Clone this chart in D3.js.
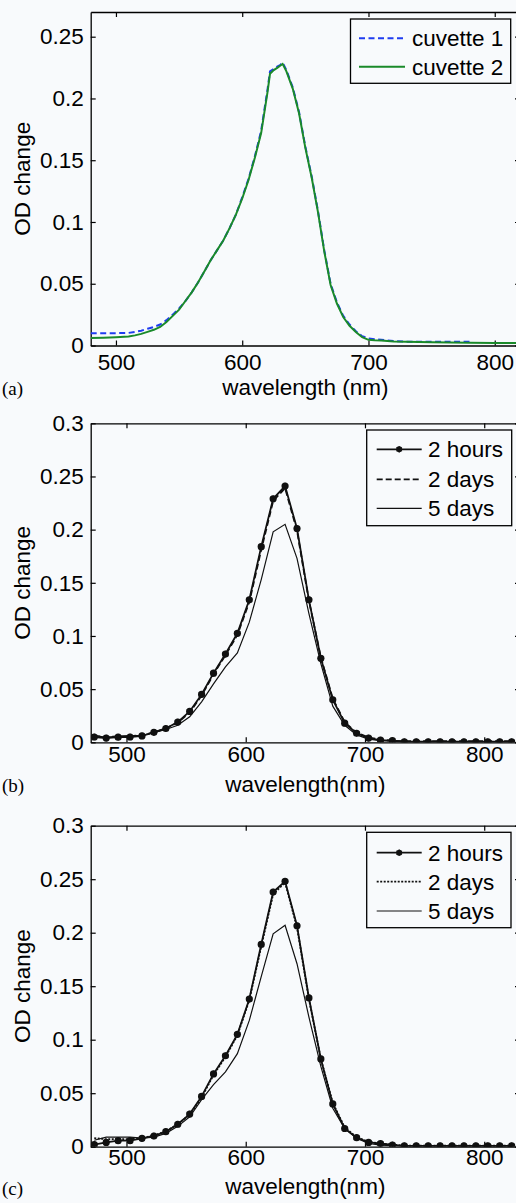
<html>
<head>
  <script src="https://d3js.org/d3.v7.min.js"></script>
  <style>
    body { margin: 0; background: #f8fafc; }
    text { font-family: "Liberation Sans", Arial, sans-serif; fill: #000; }
    .domain { stroke: #000; stroke-width: 1.3px; }
    .tick line { stroke: #000; stroke-width: 1.2px; }
  </style>
</head>
<body>
<svg id="fig" width="516" height="1203"></svg>
<script>
  // ---- data ----
  // panel (a)
  const wlA = [480, 490, 500, 510, 515, 520, 525, 530, 535, 540, 545, 550, 555, 560, 565, 570, 575, 580, 585, 590,
    595, 600, 605, 610, 615, 620, 622, 625, 628, 630, 632, 635, 640, 645, 650, 655, 660, 665, 670, 675,
    680, 685, 690, 695, 700, 705, 710, 720, 730, 750, 780, 800, 820];
  const cuvette1 = [0.010, 0.010, 0.010, 0.0102, 0.011, 0.012, 0.0135, 0.015, 0.017, 0.0205, 0.025, 0.030, 0.036, 0.043, 0.051, 0.060, 0.069, 0.077, 0.085, 0.095,
    0.106, 0.120, 0.135, 0.153, 0.174, 0.207, 0.222, 0.224, 0.226, 0.227, 0.229, 0.223, 0.209, 0.189, 0.161, 0.137, 0.109, 0.077, 0.050, 0.035,
    0.024, 0.017, 0.0115, 0.0075, 0.0058, 0.005, 0.0047, 0.0036, 0.003, 0.003, 0.003, null, null];
  const cuvette2 = [0.006, 0.0063, 0.0067, 0.0073, 0.0082, 0.0094, 0.011, 0.0127, 0.015, 0.019, 0.024, 0.029, 0.036, 0.043, 0.051, 0.060, 0.069, 0.077, 0.085, 0.095,
    0.106, 0.119, 0.134, 0.152, 0.172, 0.205, 0.220, 0.223, 0.225, 0.2265, 0.228, 0.222, 0.208, 0.188, 0.160, 0.136, 0.108, 0.076, 0.049, 0.034,
    0.023, 0.016, 0.011, 0.0067, 0.0046, 0.0042, 0.004, 0.0033, 0.003, 0.0027, 0.0022, 0.002, 0.002];

  // panels (b) and (c) share the wavelength grid
  const wlBC = [473, 483, 493, 503, 513, 523, 533, 543, 553, 563, 573, 583, 593, 603, 613, 623, 633, 643, 653, 663,
    673, 683, 693, 703, 713, 723, 733, 743, 753, 763, 773, 783, 793, 803, 813, 823];

  const hours2B = [0.005, 0.004, 0.0048, 0.005, 0.006, 0.0094, 0.013, 0.019, 0.029, 0.045, 0.065, 0.083, 0.1025, 0.134, 0.184, 0.229, 0.241, 0.201, 0.134, 0.079,
    0.040, 0.018, 0.0085, 0.004, 0.002, 0.0015, 0.0005, 0.0005, 0.0005, 0.0005, 0.0005, 0.0005, 0.0005, 0.0005, 0.0005, 0.0005];
  const days2B = [0.006, 0.005, 0.0055, 0.0058, 0.0065, 0.0095, 0.013, 0.0185, 0.028, 0.044, 0.064, 0.082, 0.101, 0.132, 0.181, 0.227, 0.239, 0.199, 0.133, 0.080,
    0.041, 0.019, 0.009, 0.0045, 0.0025, 0.0015, 0.001, 0.001, 0.001, 0.001, 0.001, 0.001, 0.001, 0.001, 0.001, 0.001];
  const days5B = [0.006, 0.005, 0.0055, 0.006, 0.0065, 0.009, 0.012, 0.016, 0.024, 0.038, 0.055, 0.071, 0.084, 0.113, 0.153, 0.198, 0.205, 0.173, 0.121, 0.074,
    0.034, 0.016, 0.007, 0.003, 0.0015, 0.001, 0.0005, 0.0005, 0.0005, 0.0005, 0.0005, 0.0005, 0.0005, 0.0005, 0.0005, 0.0005];

  const hours2C = [0.002, 0.004, 0.0056, 0.0056, 0.0078, 0.010, 0.014, 0.021, 0.0305, 0.047, 0.068, 0.085, 0.105, 0.138, 0.189, 0.238, 0.248, 0.2065, 0.139, 0.082,
    0.040, 0.017, 0.0084, 0.004, 0.003, 0.0016, 0.0008, 0.0008, 0.0008, 0.0008, 0.0008, 0.0008, 0.0008, 0.0008, 0.0008, 0.0008];
  const days2C = [0.008, 0.007, 0.007, 0.007, 0.008, 0.0105, 0.0145, 0.021, 0.030, 0.046, 0.067, 0.084, 0.104, 0.137, 0.187, 0.236, 0.247, 0.205, 0.138, 0.082,
    0.041, 0.018, 0.009, 0.0045, 0.003, 0.002, 0.001, 0.001, 0.001, 0.001, 0.001, 0.001, 0.001, 0.001, 0.001, 0.001];
  const days5C = [0.006, 0.009, 0.009, 0.009, 0.008, 0.009, 0.0125, 0.019, 0.028, 0.044, 0.058, 0.070, 0.087, 0.118, 0.159, 0.199, 0.207, 0.171, 0.121, 0.075,
    0.036, 0.017, 0.008, 0.003, 0.0015, 0.001, 0.0008, 0.0008, 0.0008, 0.0008, 0.0008, 0.0008, 0.0008, 0.0008, 0.0008, 0.0008];

  const xTicks = [500, 600, 700, 800];
  const yTicksA = [0, 0.05, 0.1, 0.15, 0.2, 0.25];
  const yTicksBC = [0, 0.05, 0.1, 0.15, 0.2, 0.25, 0.3];
  const legendA = ["cuvette 1", "cuvette 2"];
  const legendBC = ["2 hours", "2 days", "5 days"];

  const svg = d3.select("#fig");
  svg.append("rect").attr("width", 516).attr("height", 1203).attr("fill", "#f8fafc");

  const fmt = d3.format("~g");
  const left = 90.7, right = 520, font = 22.5;

  function drawPanel(p) {
    const x = d3.scaleLinear().domain(p.xDomain).range([left, right]);
    const y = d3.scaleLinear().domain(p.yDomain).range([p.bottom, p.top]);
    const g = svg.append("g");

    // box with inward ticks (matlab style)
    g.append("g").attr("transform", `translate(0,${p.bottom})`)
      .call(d3.axisBottom(x).tickValues(xTicks).tickSizeInner(-5).tickSizeOuter(0).tickPadding(p.xPad).tickFormat(d3.format("d")))
      .selectAll("text").style("font-size", font + "px");
    g.append("g").attr("transform", `translate(0,${p.top})`)
      .call(d3.axisTop(x).tickValues(xTicks).tickSizeInner(-5).tickSizeOuter(0).tickFormat(""));
    g.append("g").attr("transform", `translate(${left},0)`)
      .call(d3.axisLeft(y).tickValues(p.yTicks).tickSizeInner(-5).tickSizeOuter(0).tickPadding(7).tickFormat(fmt))
      .selectAll("text").style("font-size", font + "px");
    g.append("g").attr("transform", `translate(${right},0)`)
      .call(d3.axisRight(y).tickValues(p.yTicks).tickSizeInner(-5).tickSizeOuter(0).tickFormat(""));
    g.selectAll(".tick text").attr("fill", "#000");

    const clip = "clip" + p.name;
    g.append("clipPath").attr("id", clip).append("rect")
      .attr("x", left).attr("y", p.top).attr("width", right - left).attr("height", p.bottom - p.top);
    const plot = g.append("g").attr("clip-path", `url(#${clip})`);

    p.series.forEach(s => {
      const pts = p.wl.map((w, i) => [w, s.values[i]]);
      const line = d3.line().defined(d => d[1] != null).x(d => x(d[0])).y(d => y(d[1]));
      plot.append("path").datum(pts)
        .attr("fill", "none").attr("stroke", s.color).attr("stroke-width", s.width)
        .attr("stroke-dasharray", s.dash || null).attr("d", line);
      if (s.marker) {
        pts.forEach(d => drawMarker(plot, x(d[0]), y(d[1]), 3.6));
      }
    });

    // legend
    const lg = p.legend;
    g.append("rect").attr("x", lg.x0).attr("y", lg.y0).attr("width", lg.x1 - lg.x0).attr("height", lg.y1 - lg.y0)
      .attr("fill", "#f8fafc").attr("stroke", "#000").attr("stroke-width", 1.3);
    p.series.forEach((s, i) => {
      const cy = lg.rows[i];
      g.append("line").attr("x1", lg.s0).attr("x2", lg.s1).attr("y1", cy).attr("y2", cy)
        .attr("stroke", s.color).attr("stroke-width", s.width).attr("stroke-dasharray", s.dash || null);
      if (s.marker) drawMarker(g, (lg.s0 + lg.s1) / 2, cy, 3);
      g.append("text").attr("x", lg.tx).attr("y", cy).attr("dy", "0.36em")
        .style("font-size", font + "px").text(lg.labels[i]);
    });

    // axis titles
    g.append("text").attr("x", (left + right) / 2).attr("y", p.xTitleY).attr("text-anchor", "middle")
      .style("font-size", font + "px").text(p.xTitle);
    g.append("text").attr("transform", `translate(30,${(p.top + p.bottom) / 2}) rotate(-90)`)
      .attr("text-anchor", "middle").style("font-size", font + "px").text("OD change");
    g.append("text").attr("x", 2).attr("y", p.tagY)
      .style("font-family", "'Liberation Serif', 'Times New Roman', serif").style("font-size", "19px")
      .text(p.tag);
  }

  function drawMarker(sel, cx, cy, r) {
    sel.append("circle").attr("cx", cx).attr("cy", cy).attr("r", r).attr("fill", "#111");
    sel.append("path").attr("transform", `translate(${cx},${cy})`)
      .attr("d", d3.symbol(d3.symbolAsterisk, 30)()).attr("stroke", "#111").attr("stroke-width", 1).attr("fill", "none");
  }

  drawPanel({
    name: "a", top: 12, bottom: 345.5, xDomain: [480, 820], yDomain: [0, 0.27], yTicks: yTicksA, xPad: 9,
    wl: wlA, xTitle: "wavelength (nm)", xTitleY: 394.5, tag: "(a)", tagY: 395,
    series: [
      { values: cuvette1, color: "#1f3cf0", width: 2, dash: "6,3.5" },
      { values: cuvette2, color: "#1a8a2a", width: 2 }
    ],
    legend: { x0: 350.5, x1: 510.7, y0: 19, y1: 83.3, rows: [38.3, 66.7], s0: 359, s1: 405, tx: 412, labels: legendA }
  });

  drawPanel({
    name: "b", top: 423.3, bottom: 742.3, xDomain: [470, 830], yDomain: [0, 0.3], yTicks: yTicksBC, xPad: 4,
    wl: wlBC, xTitle: "wavelength(nm)", xTitleY: 792, tag: "(b)", tagY: 792,
    series: [
      { values: hours2B, color: "#111", width: 1.8, marker: true },
      { values: days2B, color: "#111", width: 1.8, dash: "6,3" },
      { values: days5B, color: "#111", width: 1.2 }
    ],
    legend: { x0: 366.7, x1: 511.7, y0: 430, y1: 525.7, rows: [449.3, 479.3, 508.3], s0: 376.7, s1: 421.7, tx: 428, labels: legendBC }
  });

  drawPanel({
    name: "c", top: 825.7, bottom: 1146.7, xDomain: [470, 830], yDomain: [0, 0.3], yTicks: yTicksBC, xPad: 2,
    wl: wlBC, xTitle: "wavelength(nm)", xTitleY: 1193.5, tag: "(c)", tagY: 1195,
    series: [
      { values: hours2C, color: "#111", width: 1.8, marker: true },
      { values: days2C, color: "#111", width: 1.8, dash: "2,1.5" },
      { values: days5C, color: "#111", width: 1.2 }
    ],
    legend: { x0: 366.7, x1: 511, y0: 832.3, y1: 927.7, rows: [852.7, 881.7, 911], s0: 376.7, s1: 421.7, tx: 428, labels: legendBC }
  });
</script>
</body>
</html>
